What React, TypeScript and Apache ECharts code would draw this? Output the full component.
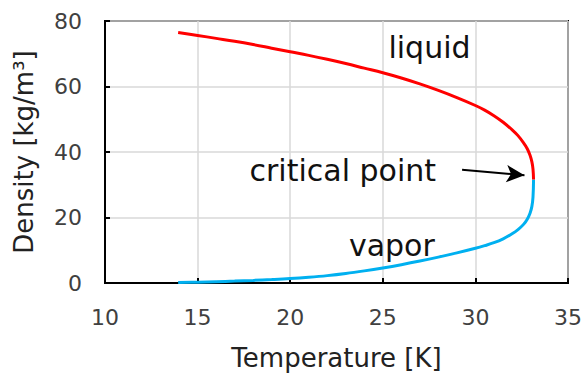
import React, { useEffect, useRef } from "react";
import * as echarts from "echarts";

const temperatureLiquid = [13.95, 15, 16, 17, 18, 19, 20, 21, 22, 23, 24, 25, 26, 27, 28, 29, 30, 30.5, 31, 31.5, 32, 32.3, 32.6, 32.8, 32.95, 33.05, 33.11, 33.14];
const densityLiquid = [76.5, 75.6, 74.7, 73.8, 72.8, 71.7, 70.6, 69.5, 68.3, 67.0, 65.6, 64.2, 62.6, 60.8, 58.8, 56.6, 54.2, 52.8, 51.1, 49.1, 46.7, 45.0, 42.8, 41.0, 39.0, 37.0, 34.8, 31.6];

const temperatureVapor = [13.95, 15, 16, 17, 18, 19, 20, 21, 22, 23, 24, 25, 26, 27, 28, 29, 30, 30.5, 31, 31.5, 32, 32.3, 32.6, 32.8, 32.95, 33.05, 33.11, 33.14];
const densityVapor = [0.12, 0.25, 0.4, 0.58, 0.8, 1.05, 1.35, 1.75, 2.25, 2.9, 3.7, 4.6, 5.6, 6.7, 7.9, 9.2, 10.6, 11.4, 12.3, 13.5, 15.1, 16.3, 17.9, 19.5, 21.3, 23.4, 26.2, 31.6];

const xTicks = [10, 15, 20, 25, 30, 35];
const yTicks = [0, 20, 40, 60, 80];

const labelLiquid = { text: "liquid", T: 27.52, rho: 71.9 };
const labelVapor = { text: "vapor", T: 25.49, rho: 11.6 };
const labelCritical = { text: "critical point", T: 22.84, rho: 34.2 };
const arrowFrom = [29.28, 34.6];
const arrowTo = [32.65, 32.9];

const FONT = "DejaVu Sans";

export default function App() {
  const ref = useRef<HTMLDivElement>(null);
  useEffect(() => {
    document.body.style.margin = "0";
    if (!ref.current) return;
    const chart = echarts.init(ref.current, undefined, { renderer: "svg" });
    const pair = (xs: number[], ys: number[]) => xs.map((x, i) => [x, ys[i]]);
    const textLabel = (l: { text: string; T: number; rho: number }) => ({
      coord: [l.T, l.rho],
      symbol: "circle",
      symbolSize: 0,
      label: {
        show: true,
        position: "inside",
        formatter: l.text,
        color: "#111",
        fontSize: 30,
        fontFamily: FONT,
      },
    });
    chart.setOption({
      animation: false,
      grid: {
        left: 105,
        right: 17,
        top: 21,
        bottom: 93,
        show: true,
        borderColor: "#000",
        borderWidth: 2,
      },
      xAxis: {
        type: "value",
        min: xTicks[0],
        max: xTicks[xTicks.length - 1],
        interval: 5,
        name: "Temperature [K]",
        nameLocation: "middle",
        nameGap: 62,
        nameTextStyle: { fontSize: 26, fontFamily: FONT, color: "#222" },
        axisLine: { show: true, lineStyle: { color: "#000", width: 2 } },
        axisTick: { show: true, inside: true, length: 5, lineStyle: { color: "#000", width: 2 } },
        axisLabel: { fontSize: 22, fontFamily: FONT, color: "#404040", margin: 23 },
        splitLine: { show: true, lineStyle: { color: "#d9d9d9", width: 1.5 } },
      },
      yAxis: {
        type: "value",
        min: yTicks[0],
        max: yTicks[yTicks.length - 1],
        interval: 20,
        name: "Density [kg/m³]",
        nameLocation: "middle",
        nameGap: 68,
        nameTextStyle: { fontSize: 26, fontFamily: FONT, color: "#222" },
        axisLine: { show: true, lineStyle: { color: "#000", width: 2 } },
        axisTick: { show: true, inside: true, length: 5, lineStyle: { color: "#000", width: 2 } },
        axisLabel: { fontSize: 22, fontFamily: FONT, color: "#404040", margin: 23 },
        splitLine: { show: true, lineStyle: { color: "#d9d9d9", width: 1.5 } },
      },
      series: [
        {
          type: "line",
          name: "vapor",
          data: pair(temperatureVapor, densityVapor),
          showSymbol: false,
          smooth: 0.4,
          lineStyle: { color: "#00B0F0", width: 3 },
          z: 3,
          markPoint: { data: [textLabel(labelVapor)] },
        },
        {
          type: "line",
          name: "liquid",
          data: pair(temperatureLiquid, densityLiquid),
          showSymbol: false,
          smooth: 0.4,
          lineStyle: { color: "#FF0000", width: 3 },
          z: 4,
          markPoint: { data: [textLabel(labelLiquid), textLabel(labelCritical)] },
          markLine: {
            silent: true,
            symbol: ["none", "arrow"],
            symbolSize: [13, 18],
            label: { show: false },
            lineStyle: { color: "#000", width: 2, type: "solid" },
            data: [[{ coord: arrowFrom }, { coord: arrowTo }]],
          },
        },
      ],
    });
    return () => chart.dispose();
  }, []);
  return <div ref={ref} style={{ width: 585, height: 376 }} />;
}
